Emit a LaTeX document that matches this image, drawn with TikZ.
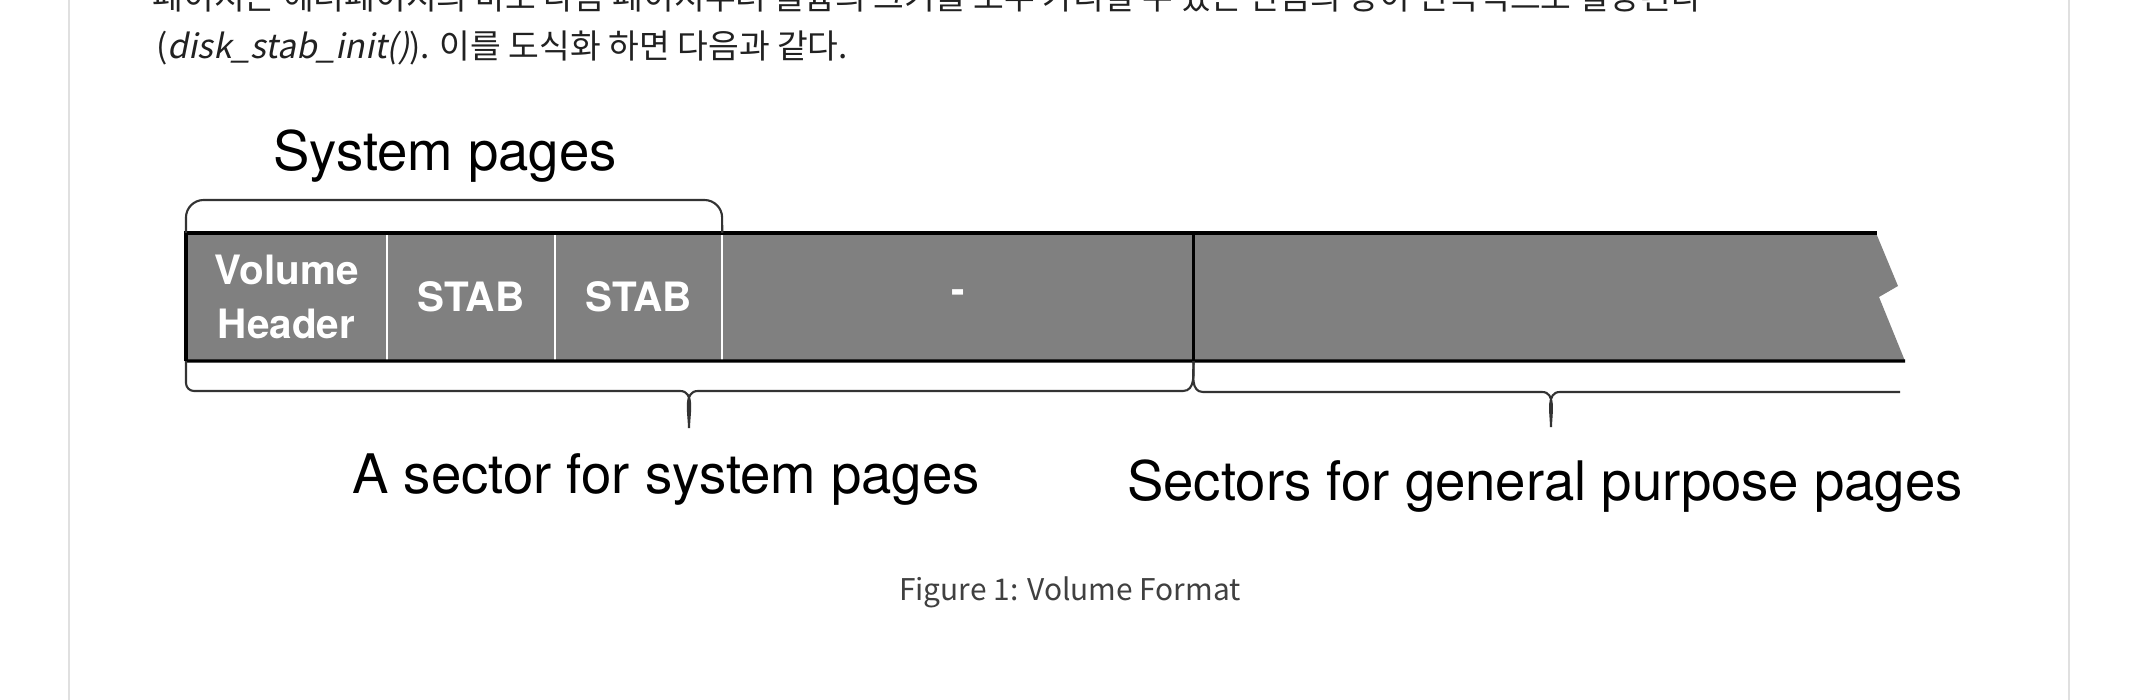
\documentclass[tikz,border=0pt]{standalone}
\usepackage{fontspec}
\setmainfont{TeX Gyre Heros}
\newfontfamily\krfont{Noto Sans CJK KR}
\newfontfamily\krslant[FakeSlant=0.2]{Noto Sans CJK KR}
\usepackage{tikz}
\usetikzlibrary{positioning}

\begin{document}
\begin{tikzpicture}[x=0.01cm,y=-0.01cm,
   cell/.style={inner sep=0pt, outer sep=0pt, minimum height=1.28cm, text=white, align=center, font=\bfseries\fontsize{11.5}{15.4}\selectfont},
   lbl/.style={anchor=base, inner sep=0pt, font=\fontsize{15.5}{18}\selectfont},
   body/.style={anchor=base west, inner sep=0pt, text=black!87, font=\krfont\fontsize{9.5}{11}\selectfont},
   brace/.style={draw=black!80, line width=0.6pt},
   rim/.style={line width=0.9pt}]
   \useasboundingbox (0,0) rectangle (2150,700);
   \fill[white] (0,0) rectangle (2150,700);
   \draw[black!12, line width=0.3pt] (69,0) -- (69,700) (2069,0) -- (2069,700);

   % page text round the figure
   \begin{scope}
   \clip (0,0) rectangle (2150,700);
   \node[body] (line_1) at (152,9) {페이지는 헤더페이지의 바로 다음 페이지부터 볼륨의 크기를 모두 가리킬 수 있는 만큼의 양이 연속적으로 할당된다};
   \end{scope}
   \node[body] (line_2) at (156,58) {({\krslant disk\_stab\_init()}). 이를 도식화 하면 다음과 같다.};

   % the volume bar
   \fill[black!50] (186,233) -- (1876,233) -- (1898,286) -- (1879,297) -- (1905,361) -- (186,361) -- cycle;
   \node[cell, minimum width=2.01cm] (vh) at (286.5,297) {Volume\\Header};
   \node[cell, minimum width=1.68cm] (stab_1) [right=0pt of vh]     {STAB};
   \node[cell, minimum width=1.67cm] (stab_2) [right=0pt of stab_1] {STAB};
   \node[cell, minimum width=4.71cm] (free)   [right=0pt of stab_2] {-};
   \node[cell, minimum width=6.83cm] (gen)    [right=0pt of free]   {};
   \coordinate (tear) at (1905,361);

   \draw[white, line width=0.6pt]
    (vh.north east)     -- (vh.south east)
    (stab_1.north east) -- (stab_1.south east)
    (stab_2.north east) -- (stab_2.south east);
   \draw[line width=0.6pt] (free.north east) -- (free.south east);
   \draw[rim] (vh.south west) -- (vh.north west) -- (gen.north east);
   \draw[rim] (vh.south west) -- (tear);

   % braces
   \draw[brace, rounded corners=5pt] (vh.north west) -- (186,200) -- (722,200) -- (stab_2.north east);
   \draw[brace] (vh.south west) -- (186,383) to[out=-90,in=180] (194,391) -- (680,391)
      to[out=0,in=90] (689,428) to[out=90,in=180] (698,391) -- (1183,391)
      to[out=0,in=-90] (free.south east);
   \draw[brace] (gen.south west) to[out=-90,in=180] (1203,392) -- (1542,392)
      to[out=0,in=90] (1551,427) to[out=90,in=180] (1560,392) -- (1900,392);

   % labels
   \node[lbl] (sys_lbl) at (445,170)  {System pages};
   \node[lbl] (sec_lbl) at (666,493)  {A sector for system pages};
   \node[lbl] (gen_lbl) at (1545,500) {Sectors for general purpose pages};
   \node[anchor=base, inner sep=0pt, text=black!75, font=\krfont\fontsize{8.5}{10}\selectfont] (caption) at (1070,600) {Figure 1: Volume Format};
\end{tikzpicture}
\end{document}
